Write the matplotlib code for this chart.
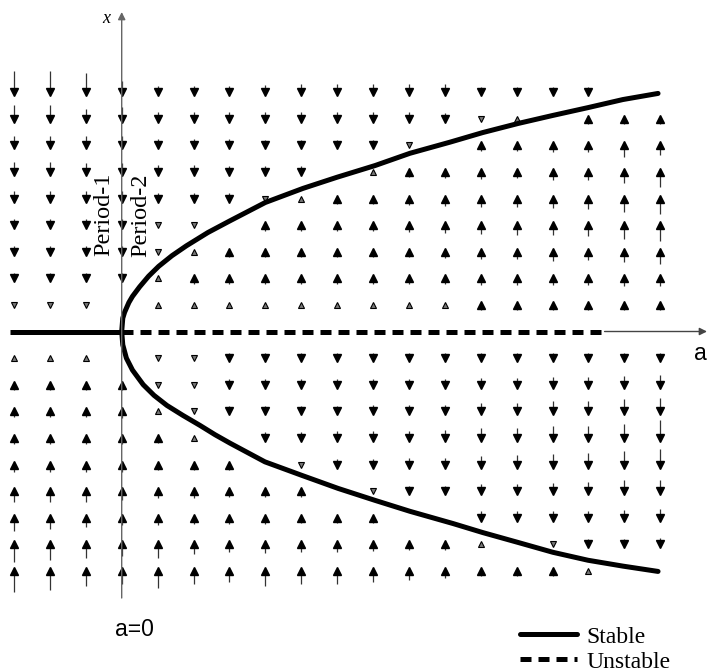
import numpy as np
import matplotlib.pyplot as plt

# grid of the direction field: a along columns, x along rows
a_cols = list(range(-3, 16))
x_rows = [9, 8, 7, 6, 5, 4, 3, 2, 1, -1, -2, -3, -4, -5, -6, -7, -8, -9]

# signed arrow length (+ up, - down), one list per row from top to bottom
flow = [
    [-18, -18, -16, -8, -3, -3, -3, -4, -5, -5, -5, -5, -5, -2, -2, -2, -2, 0, 0],
    [-10, -10, -6, -8, -3, -3, -3, -3, -3, -3, -3, -3, -2, -1, 1, 0, 2, 2, 2],
    [-6, -6, -6, -6, -3, -3, -3, -2, -2, -2, -2, -1, 0, 2, 2, 3, 3, 8, 6],
    [-6, -6, -5, -5, -3, -3, -2, -2, -2, 0, 1, 2, 3, 4, 3, 5, 5, 8, 12],
    [-4, -4, -4, -4, -2, -2, -2, -1, 1, 2, 2, 3, 4, 5, 5, 6, 7, 10, 12],
    [-3, -3, -3, -3, -1, -1, 0, 2, 2, 2, 2, 3, 4, 5, 6, 6, 7, 10, 12],
    [-2, -2, -2, -2, -1, 1, 2, 2, 2, 2, 2, 2, 3, 4, 4, 6, 5, 7, 9],
    [-2, -2, -2, -2, 1, 2, 2, 2, 2, 2, 2, 2, 2, 3, 3, 3, 3, 4, 4],
    [-1, -1, -1, 0, 1, 1, 1, 1, 1, 1, 1, 1, 1, 2, 2, 2, 2, 2, 2],
    [1, 1, 1, 0, -1, -1, -2, -2, -2, -2, -2, -2, -2, -2, -2, -2, -2, -2, -2],
    [2, 2, 2, 2, -1, -1, -2, -2, -2, -2, -2, -2, -2, -3, -3, -4, -4, -5, -6],
    [2, 2, 2, 3, 1, -1, -2, -2, -2, -2, -3, -3, -3, -5, -5, -7, -7, -9, -10],
    [3, 3, 3, 3, 2, 1, 0, -2, -2, -3, -3, -3, -4, -6, -6, -8, -8, -10, -14],
    [4, 4, 4, 4, 2, 2, 2, 0, -1, -2, -2, -3, -3, -5, -6, -7, -8, -10, -12],
    [7, 7, 7, 5, 3, 3, 2, 2, 2, 0, -1, -2, -2, -4, -4, -5, -6, -8, -8],
    [10, 8, 6, 4, 4, 3, 3, 3, 2, 2, 2, 0, 0, -3, -3, -3, -3, -4, -5],
    [14, 12, 10, 8, 10, 6, 4, 5, 4, 4, 3, 2, 2, 1, 0, -1, -2, -2, -3],
    [18, 16, 12, 10, 14, 10, 8, 12, 10, 10, 8, 6, 4, 2, 2, 2, 1, 0, 0],
]

# equilibrium branches x = +/- sqrt(a) (stable)
upper_a = [0, 0.03, 0.08, 0.2, 0.3, 0.5, 0.75, 1.03, 1.4, 1.8, 2.4, 3.0, 4.0,
           5.05, 6.0, 7.06, 8.03, 9.15, 10.06, 11.04, 12.0, 13.0, 13.96, 14.94]
upper_x = [0, 0.5, 0.72, 1.09, 1.32, 1.68, 2.08, 2.45, 2.85, 3.22, 3.72, 4.15,
           4.85, 5.38, 5.8, 6.24, 6.7, 7.12, 7.48, 7.82, 8.12, 8.42, 8.72, 8.95]
lower_a = [0, 0.03, 0.13, 0.3, 0.6, 0.9, 1.26, 1.7, 2.18, 2.6, 3.02, 3.99, 5.02,
           6.03, 7.06, 8.03, 9.23, 10.06, 11.04, 12.01, 12.99, 13.96, 14.94]
lower_x = [0, -0.5, -1.0, -1.45, -2.0, -2.4, -2.78, -3.15, -3.53, -3.88, -4.2,
           -4.9, -5.41, -5.9, -6.35, -6.76, -7.22, -7.56, -7.93, -8.3, -8.6,
           -8.82, -9.02]

# x = 0 branch: stable for a < 0, unstable for a > 0
stable_a0 = [-3.1, 0]
unstable_a0 = [0, 13.45]

W, H = 707, 672
PX_A, PX_X = 35.9, 26.6     # pixels per unit
OX, OY = 121.7, 331.5       # origin in pixels


def a_of(px):
    return (px - OX) / PX_A


def x_of(py):
    return (OY - py) / PX_X


fig = plt.figure(figsize=(W / 100, H / 100), dpi=100)
ax = fig.add_axes([0, 0, 1, 1])
ax.set_xlim(a_of(0), a_of(W))
ax.set_ylim(x_of(H), x_of(0))
ax.axis('off')

serif = 'Liberation Serif'
sans = 'Liberation Sans'

# axes with arrows
ax.annotate('', xy=(0, x_of(12)), xytext=(0, x_of(598)),
            arrowprops=dict(arrowstyle='-|>', lw=1.0, color='#666',
                            mutation_scale=11, shrinkA=0, shrinkB=0))
ax.annotate('', xy=(a_of(707), 0), xytext=(unstable_a0[1], 0),
            arrowprops=dict(arrowstyle='-|>', lw=1.0, color='#444',
                            mutation_scale=11, shrinkA=0, shrinkB=0))

# direction field
head = 3.5 / PX_X
up_a, up_x, dn_a, dn_x = [], [], [], []
ups_a, ups_x, dns_a, dns_x = [], [], [], []
stem_a, stem_y0, stem_y1 = [], [], []
for xv, row in zip(x_rows, flow):
    for av, f in zip(a_cols, row):
        if f == 0:
            continue
        s = 1 if f > 0 else -1
        if abs(f) == 1:
            (ups_a if s > 0 else dns_a).append(av)
            (ups_x if s > 0 else dns_x).append(xv)
            continue
        (up_a if s > 0 else dn_a).append(av)
        (up_x if s > 0 else dn_x).append(xv)
        stem_a.append(av)
        stem_y0.append(xv - s * head)
        stem_y1.append(xv - s * (head + abs(f) / PX_X))

ax.vlines(stem_a, stem_y0, stem_y1, color='#333', lw=0.9)
ax.plot(up_a, up_x, '^', color='k', ms=5.5, ls='none')
ax.plot(dn_a, dn_x, 'v', color='k', ms=5.5, ls='none')
ax.plot(ups_a, ups_x, '^', mfc='#777', mec='k', mew=0.8, ms=4.6, ls='none')
ax.plot(dns_a, dns_x, 'v', mfc='#777', mec='k', mew=0.8, ms=4.6, ls='none')

# bifurcation branches
lw = 3.6
stable_line, = ax.plot(upper_a, upper_x, color='k', lw=lw,
                       solid_capstyle='round', solid_joinstyle='round')
ax.plot(lower_a, lower_x, color='k', lw=lw,
        solid_capstyle='round', solid_joinstyle='round')
ax.plot(stable_a0, [0, 0], color='k', lw=lw, solid_capstyle='butt')
unstable_line, = ax.plot(unstable_a0, [0, 0], color='k', lw=lw,
                         dashes=(2.2, 1.4))

# labels
ax.text(a_of(104), x_of(214), 'Period-1', rotation=90, ha='center',
        va='center', family=serif, fontsize=17.5)
ax.text(a_of(140.5), x_of(215), 'Period-2', rotation=90, ha='center',
        va='center', family=serif, fontsize=17.5)
ax.text(a_of(134), x_of(630), 'a=0', ha='center', va='center',
        family=sans, fontsize=16.5)
ax.text(a_of(694), x_of(353), 'a', ha='left', va='center',
        family=sans, fontsize=16.5)
ax.text(a_of(106), x_of(18), 'x', ha='center', va='center',
        family=serif, style='italic', fontsize=13)

ax.legend([stable_line, unstable_line], ['Stable', 'Unstable'],
          loc='upper left', bbox_to_anchor=(520 / W, 1 - 626 / H),
          bbox_transform=fig.transFigure, frameon=False, borderpad=0,
          borderaxespad=0, handlelength=2.4, handletextpad=0.4,
          labelspacing=0.15, prop=dict(family=serif, size=17))

fig.savefig('out.png', dpi=100)
